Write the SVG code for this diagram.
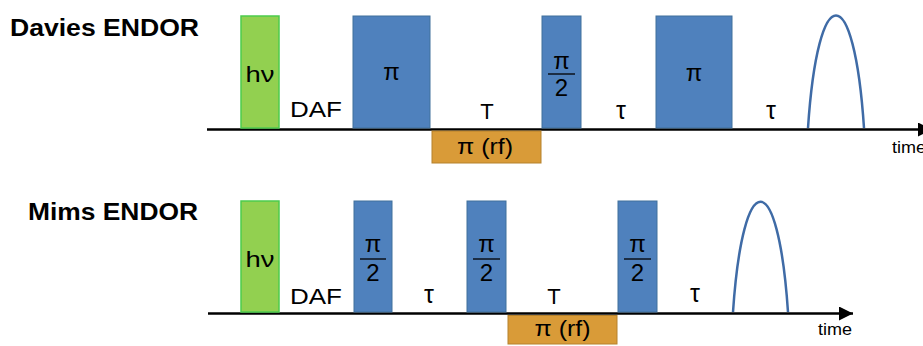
<svg xmlns="http://www.w3.org/2000/svg" width="923" height="346" viewBox="0 0 923 346">
<defs>
<marker id="arr" markerUnits="userSpaceOnUse" markerWidth="14" markerHeight="14" viewBox="0 0 12 12" refX="12" refY="6" orient="auto">
<path d="M0,0 L12,6 L0,12 Z" fill="#000"/>
</marker>
</defs>
<style>
text{font-family:"Liberation Sans",Arial,sans-serif;fill:#000;text-anchor:middle}
.title{font-weight:bold;font-size:24px;text-anchor:start}
.lbl{font-size:22px}
.pi{font-size:24px}
.tau{font-size:25px}
.frac{font-size:24px}
.small{font-size:16px}
.mw{fill:#4F81BD;stroke:#41719C;stroke-width:1}
.hv{fill:#92D050;stroke:#4CCB4C;stroke-width:1.5}
.rf{fill:#D99B38;stroke:#B5812C;stroke-width:1}
.echo{fill:none;stroke:#3F6BA6;stroke-width:2.5}
.axis{stroke:#000;stroke-width:2.5;fill:none}
.fl{stroke:#000;stroke-width:1.3}
</style>

<text class="title" x="10" y="36" textLength="189" lengthAdjust="spacingAndGlyphs">Davies ENDOR</text>
<text class="title" x="28" y="220" textLength="170" lengthAdjust="spacingAndGlyphs">Mims ENDOR</text>

<g id="connectors">
<line class="axis" x1="207" y1="129.5" x2="932" y2="129.5" marker-end="url(#arr)"/>
<line class="axis" x1="208" y1="313.5" x2="853" y2="313.5" marker-end="url(#arr)"/>
</g>

<!-- Davies ENDOR -->
<g id="d-hv"><rect class="hv" x="241" y="16" width="38" height="112"/><text class="lbl" x="260" y="82" textLength="29" lengthAdjust="spacingAndGlyphs">hν</text></g>
<g id="d-daf"><text class="lbl" x="316" y="117" textLength="52" lengthAdjust="spacingAndGlyphs">DAF</text></g>
<g id="d-pi1"><rect class="mw" x="353" y="16" width="77" height="112"/><text class="pi" x="391.5" y="80">π</text></g>
<g id="d-rf"><rect class="rf" x="432" y="131" width="109" height="32"/><text class="lbl" x="485" y="154" textLength="56" lengthAdjust="spacingAndGlyphs">π (rf)</text></g>
<g id="d-T"><text class="lbl" x="487" y="119">T</text></g>
<g id="d-pi2"><rect class="mw" x="542" y="16" width="39" height="112"/><text class="frac" x="561.5" y="69">π</text><line class="fl" x1="548" y1="74" x2="575" y2="74"/><text class="frac" x="561.5" y="96">2</text></g>
<g id="d-tau1"><text class="tau" x="621" y="119">τ</text></g>
<g id="d-pi3"><rect class="mw" x="656" y="16" width="76" height="112"/><text class="pi" x="694" y="81">π</text></g>
<g id="d-tau2"><text class="tau" x="771" y="119">τ</text></g>
<g id="d-echo"><path class="echo" d="M808,128 C818,-22 854,-22 864,128"/></g>
<g id="d-time"><text class="small" x="892" y="153" style="text-anchor:start" textLength="34" lengthAdjust="spacingAndGlyphs">time</text></g>

<!-- Mims ENDOR -->
<g id="m-hv"><rect class="hv" x="241" y="201" width="38" height="111"/><text class="lbl" x="260" y="267" textLength="29" lengthAdjust="spacingAndGlyphs">hν</text></g>
<g id="m-daf"><text class="lbl" x="316" y="304" textLength="52" lengthAdjust="spacingAndGlyphs">DAF</text></g>
<g id="m-pi1"><rect class="mw" x="354" y="201" width="38" height="111"/><text class="frac" x="373" y="252">π</text><line class="fl" x1="360" y1="259" x2="386" y2="259"/><text class="frac" x="373" y="281">2</text></g>
<g id="m-tau1"><text class="tau" x="429" y="303">τ</text></g>
<g id="m-pi2"><rect class="mw" x="467" y="201" width="39" height="111"/><text class="frac" x="486.5" y="252">π</text><line class="fl" x1="473" y1="259" x2="500" y2="259"/><text class="frac" x="486.5" y="281">2</text></g>
<g id="m-T"><text class="lbl" x="554" y="304">T</text></g>
<g id="m-rf"><rect class="rf" x="508" y="315.5" width="109" height="28.5"/><text class="lbl" x="562.5" y="336" textLength="56" lengthAdjust="spacingAndGlyphs">π (rf)</text></g>
<g id="m-pi3"><rect class="mw" x="618" y="201" width="39" height="111"/><text class="frac" x="637.5" y="252">π</text><line class="fl" x1="624" y1="259" x2="651" y2="259"/><text class="frac" x="637.5" y="281">2</text></g>
<g id="m-tau2"><text class="tau" x="695" y="302">τ</text></g>
<g id="m-echo"><path class="echo" d="M733,312 C743,165 778,165 788,312"/></g>
<g id="m-time"><text class="small" x="818" y="335" style="text-anchor:start" textLength="34" lengthAdjust="spacingAndGlyphs">time</text></g>
</svg>
